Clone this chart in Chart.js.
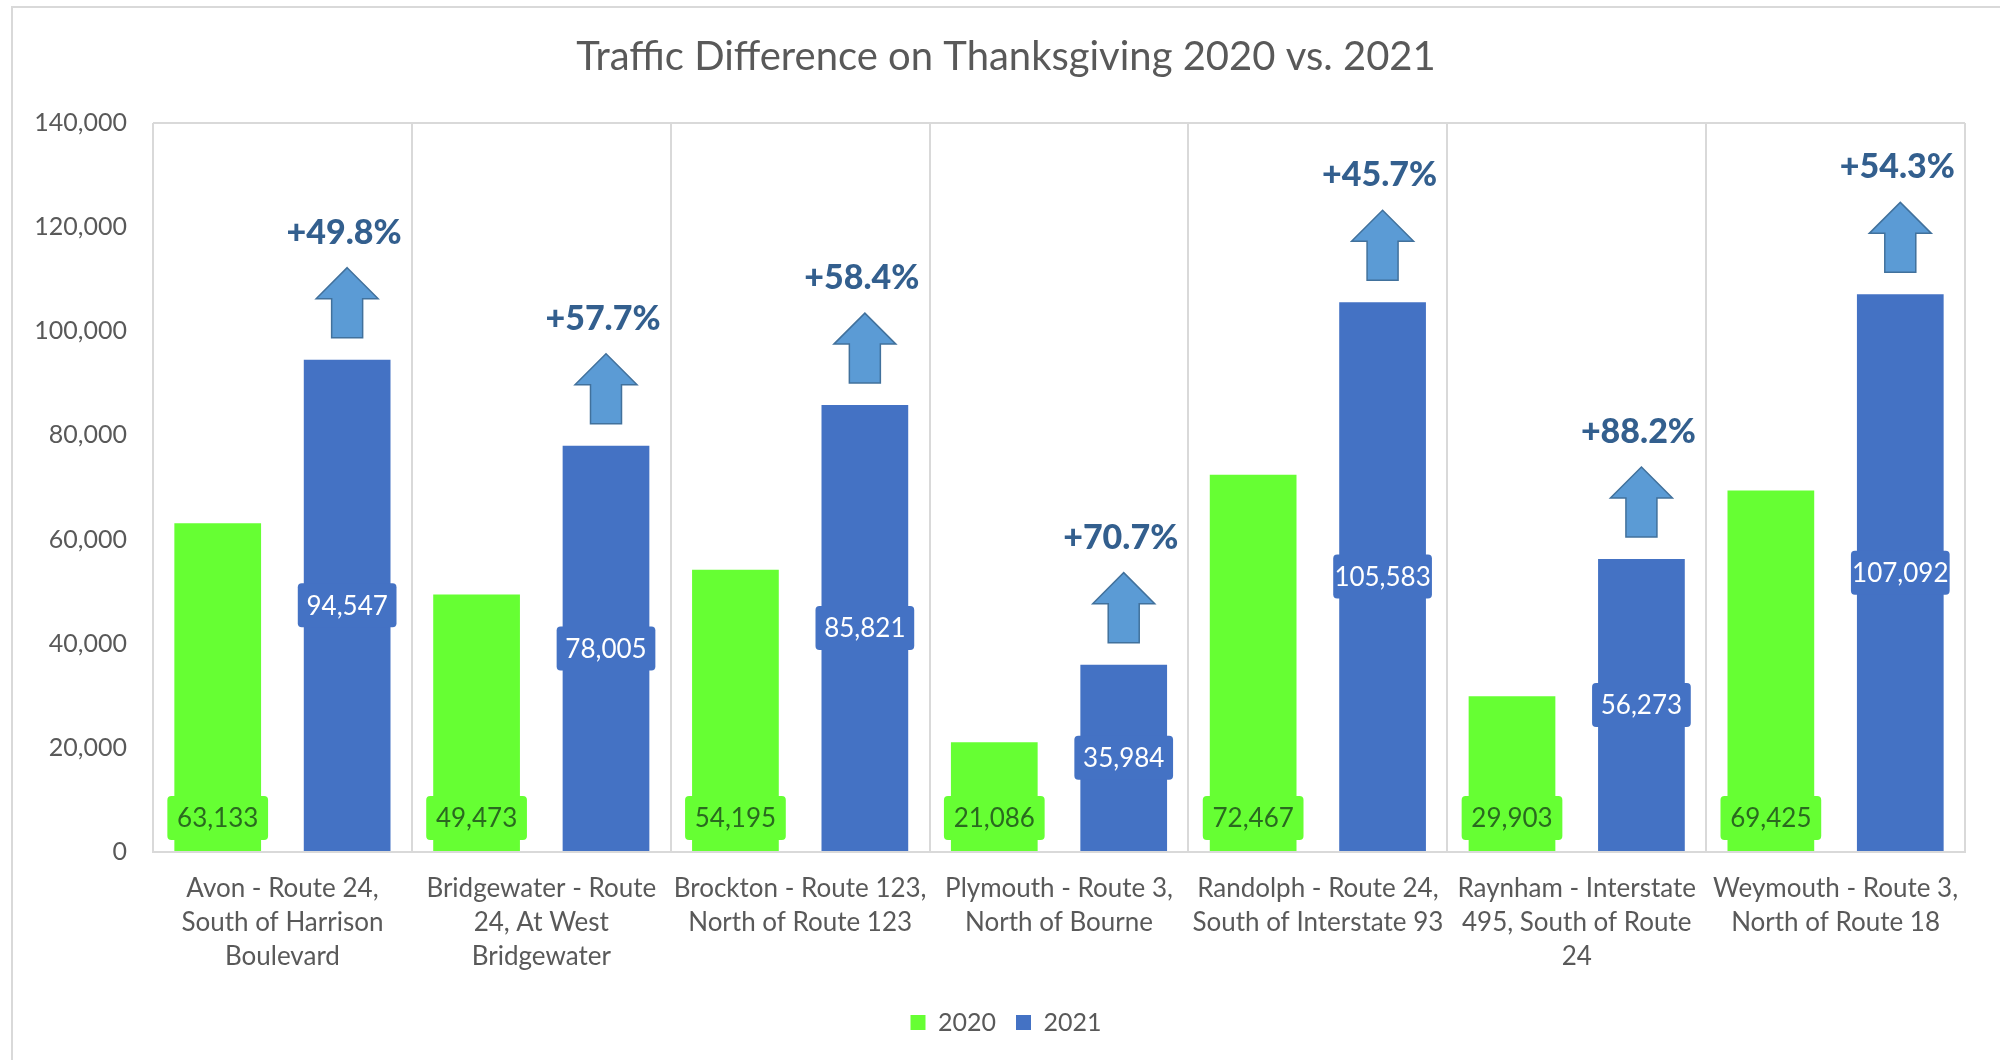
<!DOCTYPE html>
<html>
<head>
<meta charset="utf-8">
<script src="https://cdn.jsdelivr.net/npm/chart.js@4.4.1/dist/chart.umd.min.js"></script>
<style>
  html, body { margin: 0; padding: 0; background: #fff; }
  #wrap { position: relative; width: 2000px; height: 1060px; overflow: hidden; }
  #frame { position: absolute; left: 11px; top: 6px; right: -4px; bottom: -4px; border: 2px solid #d9d9d9; }
  canvas { position: absolute; left: 0; top: 0; }
</style>
</head>
<body>
<div id="wrap">
  <div id="frame"></div>
  <canvas id="trafficChart" width="2000" height="1060"></canvas>
</div>
<script>
// Traffic counts per location
const locations = [
    ['Avon - Route 24,', 'South of Harrison', 'Boulevard'],
    ['Bridgewater - Route', '24, At West', 'Bridgewater'],
    ['Brockton - Route 123,', 'North of Route 123'],
    ['Plymouth - Route 3,', 'North of Bourne'],
    ['Randolph - Route 24,', 'South of Interstate 93'],
    ['Raynham - Interstate', '495, South of Route', '24'],
    ['Weymouth - Route 3,', 'North of Route 18']
];
const traffic2020 = [63133, 49473, 54195, 21086, 72467, 29903, 69425];
const traffic2021 = [94547, 78005, 85821, 35984, 105583, 56273, 107092];
const changeLabels = ['+49.8%', '+57.7%', '+58.4%', '+70.7%', '+45.7%', '+88.2%', '+54.3%'];

const green = '#66ff33';
const blue = '#4472c4';
const greyText = '#595959';
const gridGrey = '#d9d9d9';
const fontFamily = 'Lato, "Open Sans", sans-serif';

const fmt = v => v.toLocaleString('en-US');

// value boxes + increase arrows drawn on top of the bars
const labelPlugin = {
    id: 'barLabels',
    afterLayout(chart) {
        // let the y tick labels use the space left of the padding (title stays centred on the frame)
        chart.scales.y.left = 0;
    },
    afterDatasetsDraw(chart) {
        const ctx = chart.ctx;
        ctx.save();
        ctx.textAlign = 'center';
        ctx.textBaseline = 'middle';

        // 2020 values sit at the base of the green bars
        chart.getDatasetMeta(0).data.forEach((bar, i) => {
            const w = bar.width + 14;
            const cy = bar.base - 33;
            ctx.fillStyle = green;
            ctx.beginPath();
            ctx.roundRect(bar.x - w / 2, cy - 22, w, 44, 4);
            ctx.fill();
            ctx.font = '26px ' + fontFamily;
            ctx.fillStyle = '#2a6a1f';
            ctx.fillText(fmt(traffic2020[i]), bar.x, cy + 1);
        });

        // 2021 values centred in the blue bars, arrow and % above
        chart.getDatasetMeta(1).data.forEach((bar, i) => {
            const w = bar.width + 12;
            const cy = (bar.y + bar.base) / 2;
            ctx.fillStyle = blue;
            ctx.beginPath();
            ctx.roundRect(bar.x - w / 2, cy - 22, w, 44, 4);
            ctx.fill();
            ctx.fillStyle = '#ffffff';
            ctx.font = '26px ' + fontFamily;
            ctx.fillText(fmt(traffic2021[i]), bar.x, cy + 1);

            // arrow
            const x = bar.x;
            const bottom = bar.y - 22;
            const tip = bar.y - 92;
            const headBase = tip + 31;
            ctx.beginPath();
            ctx.moveTo(x, tip);
            ctx.lineTo(x + 31, headBase);
            ctx.lineTo(x + 15.5, headBase);
            ctx.lineTo(x + 15.5, bottom);
            ctx.lineTo(x - 15.5, bottom);
            ctx.lineTo(x - 15.5, headBase);
            ctx.lineTo(x - 31, headBase);
            ctx.closePath();
            ctx.fillStyle = '#5b9bd5';
            ctx.fill();
            ctx.lineWidth = 1.5;
            ctx.strokeStyle = '#41719c';
            ctx.stroke();

            ctx.font = '900 34px ' + fontFamily;
            ctx.fillStyle = '#335f8e';
            ctx.fillText(changeLabels[i], x - 3, bar.y - 127);
        });
        ctx.restore();
    }
};

const ctx = document.getElementById('trafficChart').getContext('2d');

new Chart(ctx, {
    type: 'bar',
    data: {
        labels: locations,
        datasets: [
            {
                label: '2020',
                data: traffic2020,
                backgroundColor: green
            },
            {
                label: '2021',
                data: traffic2021,
                backgroundColor: blue
            }
        ]
    },
    options: {
        responsive: false,
        animation: false,
        datasets: {
            bar: {
                categoryPercentage: 1.0,
                barPercentage: 0.67
            }
        },
        layout: {
            padding: { left: 47, right: 35, top: 0, bottom: 15 }
        },
        plugins: {
            title: {
                display: true,
                text: 'Traffic Difference on Thanksgiving 2020 vs. 2021',
                color: greyText,
                font: { family: fontFamily, size: 40, weight: 'normal', lineHeight: 1.2 },
                padding: { top: 33, bottom: 42 }
            },
            legend: {
                position: 'bottom',
                labels: {
                    color: greyText,
                    boxWidth: 15,
                    boxHeight: 15,
                    padding: 20,
                    font: { family: fontFamily, size: 25 }
                }
            },
            tooltip: { enabled: false }
        },
        scales: {
            x: {
                grid: {
                    color: gridGrey,
                    lineWidth: 2,
                    drawTicks: false
                },
                border: { color: gridGrey, width: 2 },
                ticks: {
                    color: greyText,
                    padding: 20,
                    autoSkip: false,
                    maxRotation: 0,
                    font: { family: fontFamily, size: 26, lineHeight: 1.3 }
                },
                afterFit(scale) { scale.height = 138; }
            },
            y: {
                min: 0,
                max: 140000,
                grid: {
                    color: c => c.tick && c.tick.value === 140000 ? gridGrey : 'rgba(0,0,0,0)',
                    lineWidth: 2,
                    drawTicks: false
                },
                border: { display: false },
                ticks: {
                    stepSize: 20000,
                    color: greyText,
                    padding: 26,
                    font: { family: fontFamily, size: 25 },
                    callback: v => fmt(v)
                },
                afterFit(scale) { scale.width = 106; }
            }
        }
    },
    plugins: [labelPlugin]
});
</script>
</body>
</html>
